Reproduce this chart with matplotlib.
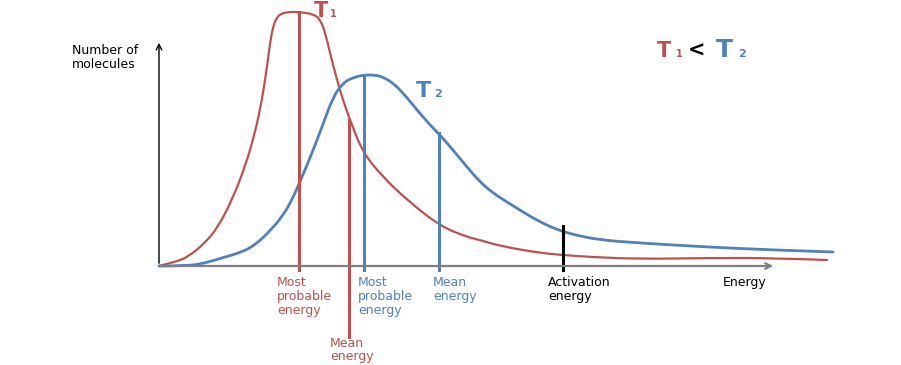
import numpy as np
import matplotlib.pyplot as plt
from matplotlib.path import Path
from matplotlib.patches import PathPatch

# curves: energy (x) and number of molecules (y), origin at axis corner
t1_energy = [0, 16, 29, 46, 59, 73, 86, 96, 103, 108, 111, 114, 117, 121, 129, 141, 154,
             161, 166, 171, 178, 184, 191, 204, 224, 248, 281, 308, 321, 341, 381, 404,
             431, 481, 548, 614, 668]
t1_count = [0, 4, 9, 23, 39, 66, 99, 133, 166, 199, 223, 239, 247, 252, 254, 254, 252,
            247, 234, 213, 186, 166, 146, 113, 89, 66, 40, 29, 26, 20, 13, 11,
            9, 7, 8, 8, 6]

t2_energy = [0, 29, 46, 63, 83, 96, 109, 123, 133, 143, 153, 163, 174, 184, 193, 204, 216,
             224, 234, 244, 254, 264, 274, 281, 294, 308, 321, 334, 348, 364, 381, 399,
             416, 441, 481, 548, 614, 674]
t2_count = [0, 0, 3, 8, 14, 21, 33, 49, 66, 89, 113, 139, 169, 183, 188, 191, 191,
            189, 183, 173, 161, 149, 138, 131, 116, 99, 84, 73, 64, 54, 44, 36,
            31, 26, 23, 19, 16, 14]

# marked energies and the span of each marker line
marker_x = [140, 190, 205, 280, 404]
marker_top = [254, 146, 191, 133, 40]
marker_bottom = [-4, -71, -4, -4, -4]
marker_color = ['#C0504D', '#C0504D', '#4F81BD', '#4F81BD', 'black']
marker_text = ['Most\nprobable\nenergy', 'Mean\nenergy', 'Most\nprobable\nenergy',
               'Mean\nenergy', 'Activation\nenergy']
text_x = [118, 171, 199, 274, 389]
text_y = [-10, -71, -10, -10, -10]

red = '#C0504D'
blue = '#4F81BD'


def smooth_path(xs, ys):
    # quadratic bezier through midpoints, read points act as control points
    pts = np.column_stack([xs, ys]).astype(float)
    verts = [pts[0]]
    codes = [Path.MOVETO]
    for i in range(1, len(pts) - 1):
        mid = (pts[i] + pts[i + 1]) / 2
        if i == len(pts) - 2:
            mid = pts[i + 1]
        verts += [pts[i], mid]
        codes += [Path.CURVE3, Path.CURVE3]
    return Path(verts, codes)


fig = plt.figure(figsize=(9.01, 3.65), dpi=100)
ax = fig.add_axes([0, 0, 1, 1])
ax.set_xlim(-159, 742)
ax.set_ylim(-99, 266)
ax.axis('off')

# axes arrows
ax.annotate('', xy=(0, 226), xytext=(0, 0),
            arrowprops=dict(arrowstyle='->', color='black', lw=1.0))
ax.annotate('', xy=(617, 0), xytext=(-1, 0),
            arrowprops=dict(arrowstyle='->', color='#7f7f7f', lw=1.6))

ax.add_patch(PathPatch(smooth_path(t1_energy, t1_count), fill=False, edgecolor=red,
                       lw=1.6, capstyle='round'))
ax.add_patch(PathPatch(smooth_path(t2_energy, t2_count), fill=False, edgecolor=blue,
                       lw=2.0, capstyle='round'))

for x, top, bot, c, s, tx, ty in zip(marker_x, marker_top, marker_bottom, marker_color,
                                     marker_text, text_x, text_y):
    ax.plot([x, x], [bot, top], color=c, lw=2.2)
    ax.text(tx, ty, s, color=c, fontsize=9, va='top', ha='left',
            linespacing=1.0 if bot < -10 else 1.1)

ax.text(-87, 222, 'Number of\nmolecules', fontsize=9, va='top', ha='left', linespacing=1.1)
ax.text(564, -10, 'Energy', fontsize=9, va='top', ha='left')

ax.text(155, 249, 'T', color=red, fontsize=15, fontweight='bold', va='baseline')
ax.text(171, 249, '1', color=red, fontsize=7, fontweight='bold', va='baseline')
ax.text(257, 169, 'T', color=blue, fontsize=16, fontweight='bold', va='baseline')
ax.text(275, 169, '2', color=blue, fontsize=8, fontweight='bold', va='baseline')

ax.text(498, 209, 'T', color=red, fontsize=15, fontweight='bold', va='baseline')
ax.text(517, 209, '1', color=red, fontsize=7, fontweight='bold', va='baseline')
ax.text(529, 209, '<', color='black', fontsize=15, fontweight='bold', va='baseline')
ax.text(557, 209, 'T', color=blue, fontsize=18, fontweight='bold', va='baseline')
ax.text(579, 209, '2', color=blue, fontsize=8, fontweight='bold', va='baseline')

fig.savefig('out.png', dpi=100)
